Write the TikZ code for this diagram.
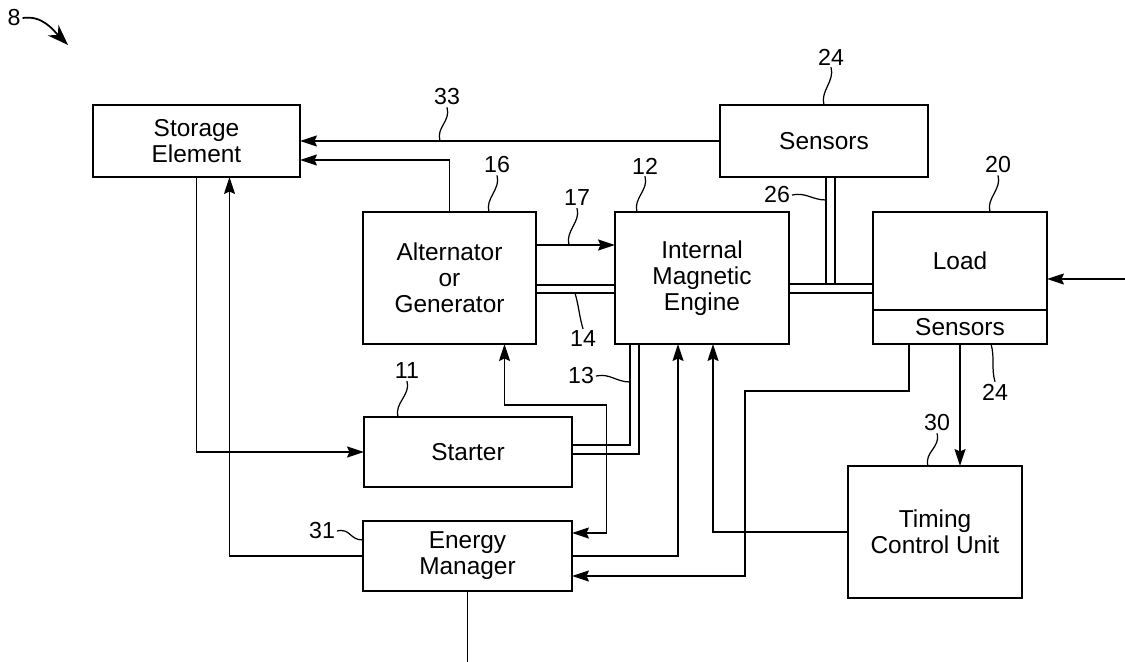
\documentclass[tikz,border=0pt]{standalone}
\usepackage{fontspec}
\setmainfont{Liberation Sans}
\usetikzlibrary{arrows.meta,positioning,calc}

\newcommand\blkfont{\fontsize{13.9}{14.9}\selectfont}
\newcommand\numfont{\fontsize{13.2}{14}\selectfont}

\tikzset{
  blk/.style={draw, line width=0.85pt, align=center, inner sep=0pt, outer sep=0pt, font=\blkfont},
  num/.style={font=\numfont, inner sep=1pt},
  lead/.style={line width=0.7pt},
  arr/.style={->, line width=0.85pt},
  arrb/.style={<->, line width=0.85pt}
}

\begin{document}
\begin{tikzpicture}[x=0.02cm, y=-0.02cm, >={Stealth[length=0.34cm, width=0.22cm, inset=0.05cm]}]
    \useasboundingbox (0,0) rectangle (1125,662);

    % blocks
    \node[blk, minimum width=4.14cm, minimum height=1.44cm] (stor) at (196.5,141) {Storage\\Element};
    \node[blk, minimum width=4.16cm, minimum height=1.44cm] (sens) at (824,141) {Sensors};
    \node[blk, minimum width=3.46cm, minimum height=2.64cm] (alt) at (449.5,278) {Alternator\\or\\Generator};
    \node[blk, minimum width=3.48cm, minimum height=2.64cm] (ime) at (702,278) {Internal\\Magnetic\\Engine};
    \node[blk, minimum width=3.48cm, minimum height=1.96cm] (load) at (960,261) {Load};
    \node[blk, minimum width=3.48cm, minimum height=0.68cm, below=0pt of load] (ldsens) {Sensors};
    \node[blk, minimum width=4.16cm, minimum height=1.4cm] (start) at (468,452) {Starter};
    \node[blk, minimum width=4.18cm, minimum height=1.4cm] (em) at (467.5,556) {Energy\\Manager};
    \node[blk, minimum width=3.48cm, minimum height=2.64cm] (tcu) at (935,532) {Timing\\Control Unit};

    % reference numerals
    \node[num] (n8) at (14,18) {8};
    \node[num] (n24a) at (831,57) {24};
    \node[num] (n33) at (447,97) {33};
    \node[num] (n16) at (497,165) {16};
    \node[num] (n12) at (645,166) {12};
    \node[num] (n17) at (577,198) {17};
    \node[num] (n26) at (777,195) {26};
    \node[num] (n20) at (998,165) {20};
    \node[num] (n14) at (583,339) {14};
    \node[num] (n24b) at (995,392) {24};
    \node[num] (n11) at (407,371) {11};
    \node[num] (n13) at (581,376) {13};
    \node[num] (n30) at (937,423) {30};
    \node[num] (n31) at (322,531) {31};

    \coordinate (n8tip) at (68,45);
    \draw[-{Stealth[length=0.42cm, width=0.3cm]}, line width=1pt] (n8.east) .. controls +(20,-3) and +(-15,-15) .. (n8tip);

    % signal lines
    \draw[arr] (sens.west) -- (sens.west -| stor.east);
    \draw[arr] (alt.north) |- ($(stor.east)+(0,19)$);
    \draw[arr] ($(alt.east)+(0,-33)$) coordinate (a17) -- (a17 -| ime.west);
    \draw[arr] (stor.south) |- (start.west);
    \draw[arr] (em.west) -| ($(stor.south)+(33,0)$);
    \coordinate (bot) at (0,662);
    \draw[line width=0.85pt] (em.south) -- (em.south |- bot);
    \draw[arrb] ($(alt.south)+(55,0)$) |- ($(alt.south)+(157,61)$) |- ($(em.east)+(0,-23)$);
    \draw[arr] (em.east) -| ($(ime.south)+(-24,0)$);
    \draw[arr] (tcu.west) -| ($(ime.south)+(11,0)$);
    \draw[arr] ($(ldsens.south)+(-51,0)$) |- ($(ldsens.south)+(-215,47)$) |- ($(em.east)+(0,20)$);
    \draw[arr] (ldsens.south) -- (ldsens.south |- tcu.north);
    \coordinate (ext) at (1125,279);
    \draw[arr] (ext) -- (ext -| load.east);

    % shafts (double lines)
    \draw[line width=0.85pt] ($(alt.east)+(0,7)$) coordinate (t14) -- (t14 -| ime.west);
    \draw[line width=0.85pt] ($(alt.east)+(0,15)$) coordinate (b14) -- (b14 -| ime.west);
    \draw[line width=0.85pt] ($(ime.east)+(0,6)$) coordinate (t1) -- (t1 -| load.west);
    \draw[line width=0.85pt] ($(ime.east)+(0,15)$) coordinate (t2) -- (t2 -| load.west);
    \coordinate (p26) at ($(sens.south)+(2,0)$);
    \coordinate (q26) at ($(sens.south)+(11,0)$);
    \draw[line width=0.85pt] (p26) -- (p26 |- t1);
    \draw[line width=0.85pt] (q26) -- (q26 |- t1);
    \draw[line width=0.85pt] ($(start.east)+(0,-7)$) -| ($(ime.south)+(-72,0)$) coordinate (p13);
    \draw[line width=0.85pt] ($(start.east)+(0,2)$) -| ($(ime.south)+(-63,0)$);

    % leaders
    \draw[lead] (n24a.south) .. controls +(4,14) and +(-4,-14) .. (sens.north);
    \draw[lead] (n33.south) .. controls +(4,14) and +(-4,-14) .. ($(n33.south |- sens.west)+(-7,0)$);
    \draw[lead] (n16.south) .. controls +(4,14) and +(-4,-14) .. ($(n16.south |- alt.north)+(-8,0)$);
    \draw[lead] (n12.south) .. controls +(4,14) and +(-4,-14) .. ($(n12.south |- ime.north)+(-8,0)$);
    \draw[lead] (n17.south) .. controls +(4,14) and +(-4,-14) .. ($(n17.south |- a17)+(-8,0)$);
    \draw[lead] (n20.south) .. controls +(4,14) and +(-4,-14) .. ($(n20.south |- load.north)+(-8,0)$);
    \draw[lead] (n14.north) .. controls +(-4,-14) and +(4,14) .. ($(n14.north |- b14)+(-8,0)$);
    \draw[lead] (n24b.north) .. controls +(-4,-14) and +(4,14) .. ($(n24b.north |- ldsens.south)+(-4,0)$);
    \draw[lead] (n11.south) .. controls +(4,14) and +(-4,-14) .. ($(n11.south |- start.north)+(-9,0)$);
    \draw[lead] (n30.south) .. controls +(4,14) and +(-4,-14) .. ($(n30.south |- tcu.north)+(-9,0)$);
    \draw[lead] (n26.east) .. controls +(14,-3) and +(-14,0) .. ($(n26.east -| p26)+(0,5)$);
    \draw[lead] (n13.east) .. controls +(14,-3) and +(-14,0) .. ($(n13.east -| p13)+(0,6)$);
    \draw[lead] (n31.east) .. controls +(14,-3) and +(-14,0) .. ($(em.west)+(0,-16)$);
\end{tikzpicture}
\end{document}
